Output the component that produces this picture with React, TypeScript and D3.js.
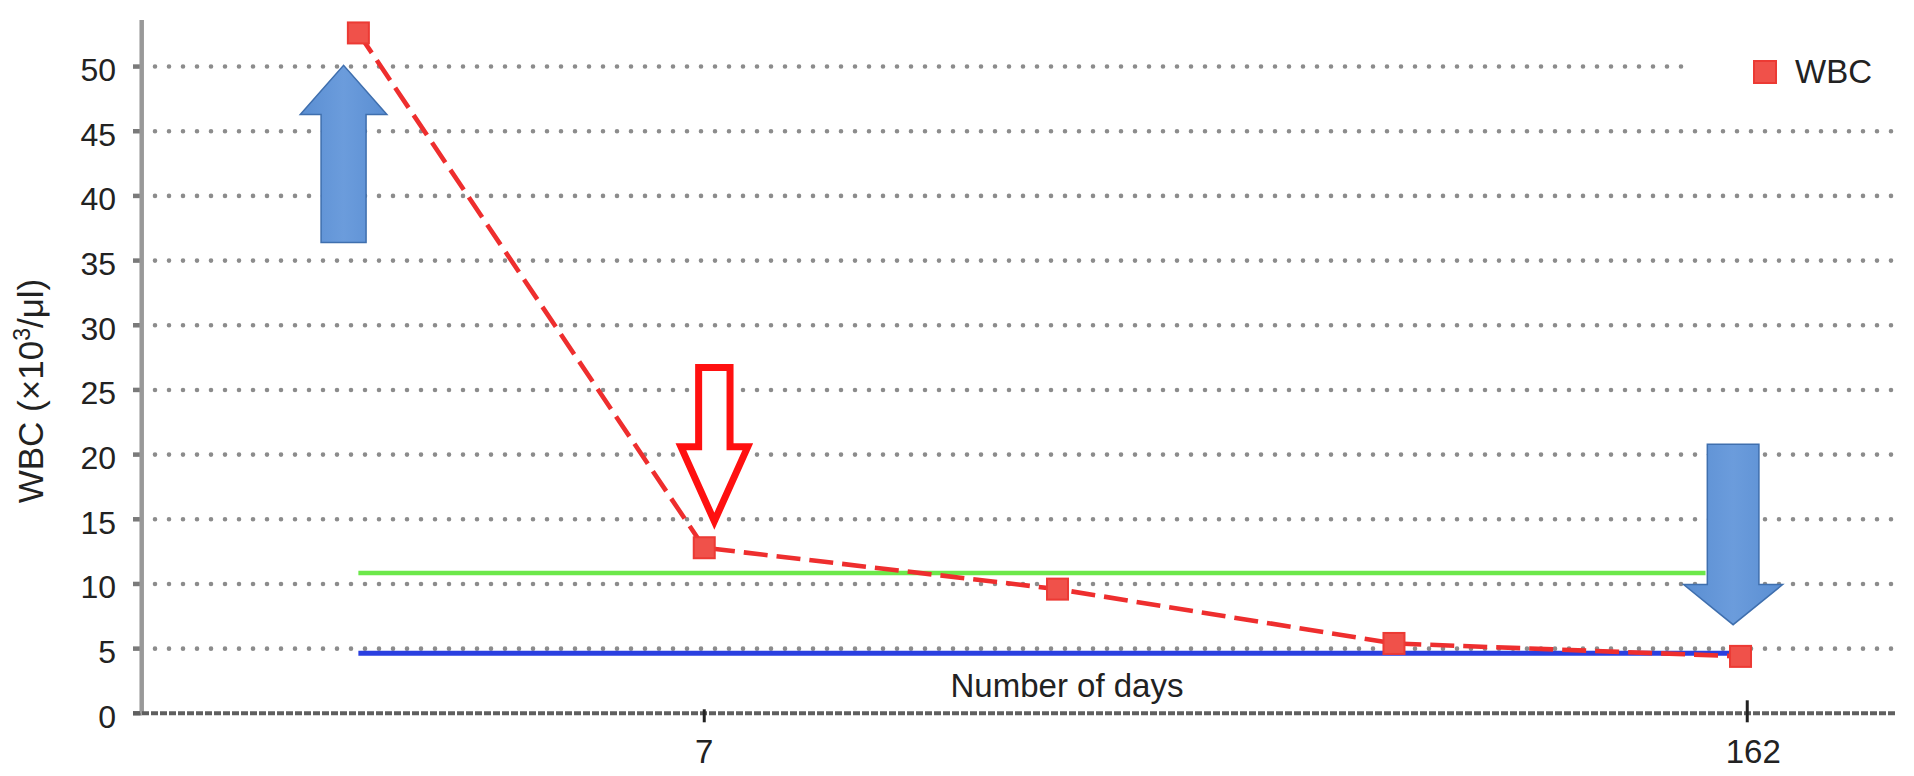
import React from "react";
import * as d3 from "d3";

// ---- data ----
const pointDays = [-44.4, 7, 59.5, 109.5, 161];
const wbcValues = [52.6, 12.8, 9.6, 5.4, 4.4];
const yTicks = [0, 5, 10, 15, 20, 25, 30, 35, 40, 45, 50];
const xTickDays = [7, 162];
const xTickLabels = ["7", "162"];
const upperRefValue = 10.85;
const upperRefDays = [-44.4, 155.8];
const lowerRefValue = 4.65;
const lowerRefDays = [-44.4, 161];
// arrows: centre day, tail value, head-base value, tip value
const blueUpArrow = { day: -46.6, tail: 36.4, headBase: 46.3, tip: 50.1 };
const redDownArrow = { day: 8.5, tail: 27.0, headBase: 20.6, tip: 14.3 };
const blueDownArrow = { day: 159.9, tail: 20.8, headBase: 9.95, tip: 6.85 };

const W = 1914;
const H = 776;
const FONT = "'Liberation Sans', Arial, Helvetica, sans-serif";

export default function App() {
  const x = d3.scaleLinear().domain([-76.6, 184.7]).range([141.7, 1900]);
  const y = d3.scaleLinear().domain([0, 53.6]).range([713.3, 20]);

  const line = d3
    .line<number>()
    .x((_, i) => x(pointDays[i]))
    .y((v) => y(v));

  const arrowPath = (
    a: { day: number; tail: number; headBase: number; tip: number },
    shaftHW: number,
    headHW: number
  ) => {
    const cx = x(a.day);
    const p = d3.path();
    p.moveTo(cx - shaftHW, y(a.tail));
    p.lineTo(cx + shaftHW, y(a.tail));
    p.lineTo(cx + shaftHW, y(a.headBase));
    p.lineTo(cx + headHW, y(a.headBase));
    p.lineTo(cx, y(a.tip));
    p.lineTo(cx - headHW, y(a.headBase));
    p.lineTo(cx - shaftHW, y(a.headBase));
    p.closePath();
    return p.toString();
  };

  const x0 = 133;
  const x1 = 1897;

  return (
    <svg
      width={W}
      height={H}
      viewBox={`0 0 ${W} ${H}`}
      style={{ position: "absolute", left: 0, top: 0, background: "#fff" }}
    >
      <defs>
        <linearGradient id="blueFill" x1="0" y1="0" x2="1" y2="0">
          <stop offset="0" stopColor="#5a8ed2" />
          <stop offset="0.5" stopColor="#6b9cdc" />
          <stop offset="1" stopColor="#5a8ed2" />
        </linearGradient>
      </defs>
      <rect x={0} y={0} width={W} height={H} fill="#fff" />

      {/* gridlines */}
      {yTicks
        .filter((t) => t > 0)
        .map((t) => (
          <line
            key={"g" + t}
            x1={x0 + 22}
            x2={t === 50 ? 1688 : x1}
            y1={y(t)}
            y2={y(t)}
            stroke="#8c8c8c"
            strokeWidth={4.6}
            strokeDasharray="0 14"
            strokeLinecap="round"
          />
        ))}

      {/* y tick marks */}
      {yTicks.map((t) => (
        <line
          key={"yt" + t}
          x1={x0}
          x2={x(-76.6)}
          y1={y(t)}
          y2={y(t)}
          stroke="#7a7a7a"
          strokeWidth={4.5}
        />
      ))}

      {/* y axis */}
      <line x1={x(-76.6)} x2={x(-76.6)} y1={y(53.6)} y2={y(0)} stroke="#999" strokeWidth={4.5} />

      {/* x axis */}
      <line
        x1={x0}
        x2={x1}
        y1={y(0)}
        y2={y(0)}
        stroke="#5f5f5f"
        strokeWidth={4}
        strokeDasharray="7 2"
      />
      {xTickDays.map((d, i) => (
        <g key={"xt" + d}>
          <line
            x1={x(d)}
            x2={x(d)}
            y1={i === 0 ? y(0) - 4 : y(0) - 13}
            y2={y(0) + 9}
            stroke="#222"
            strokeWidth={3}
          />
          <text
            x={x(d) + (i === 0 ? 0 : 6)}
            y={763}
            textAnchor="middle"
            fontFamily={FONT}
            fontSize={33}
            fill="#222"
          >
            {xTickLabels[i]}
          </text>
        </g>
      ))}

      {/* y tick labels */}
      {yTicks.map((t) => (
        <text
          key={"yl" + t}
          x={116}
          y={y(t) + 14.5}
          textAnchor="end"
          fontFamily={FONT}
          fontSize={32}
          fill="#222"
        >
          {t}
        </text>
      ))}

      {/* y axis title */}
      <text
        transform={`translate(43, 391) rotate(-90)`}
        textAnchor="middle"
        fontFamily={FONT}
        fontSize={35}
        fill="#222"
      >
        WBC (×10
        <tspan fontSize={23} dy={-13}>
          3
        </tspan>
        <tspan dy={13}>/μl)</tspan>
      </text>

      {/* x axis title */}
      <text x={1067} y={697} textAnchor="middle" fontFamily={FONT} fontSize={33} fill="#222">
        Number of days
      </text>

      {/* reference lines */}
      <line
        x1={x(upperRefDays[0])}
        x2={x(upperRefDays[1])}
        y1={y(upperRefValue)}
        y2={y(upperRefValue)}
        stroke="#6ce84a"
        strokeWidth={4.5}
      />
      <line
        x1={x(lowerRefDays[0])}
        x2={x(lowerRefDays[1])}
        y1={y(lowerRefValue)}
        y2={y(lowerRefValue)}
        stroke="#2a3fe0"
        strokeWidth={5}
      />

      {/* WBC series */}
      <path
        d={line(wbcValues) ?? ""}
        fill="none"
        stroke="#ee2e2e"
        strokeWidth={4.6}
        strokeDasharray="24 9"
      />
      {wbcValues.map((v, i) => (
        <rect
          key={"p" + i}
          x={x(pointDays[i]) - 10.5}
          y={y(v) - 10.5}
          width={21}
          height={21}
          fill="#f0514a"
          stroke="#ec3a34"
          strokeWidth={2}
        />
      ))}

      {/* arrows */}
      <path
        d={arrowPath(blueUpArrow, 22.5, 43.3)}
        fill="url(#blueFill)"
        stroke="#3f6fae"
        strokeWidth={1.5}
      />
      <path
        d={arrowPath(blueDownArrow, 25.8, 49.5)}
        fill="url(#blueFill)"
        stroke="#3f6fae"
        strokeWidth={1.5}
      />
      <path
        d={arrowPath(
          { ...redDownArrow, tail: redDownArrow.tail - 0.27, tip: redDownArrow.tip + 0.55 },
          15.7,
          33.4
        )}
        fill="#fff"
        stroke="#ff1010"
        strokeWidth={7}
        strokeLinejoin="miter"
      />

      {/* legend */}
      <rect x={1754} y={61} width={22} height={22} fill="#f0514a" stroke="#ec3a34" strokeWidth={2} />
      <text x={1795} y={83} fontFamily={FONT} fontSize={33} fill="#222">
        WBC
      </text>
    </svg>
  );
}
